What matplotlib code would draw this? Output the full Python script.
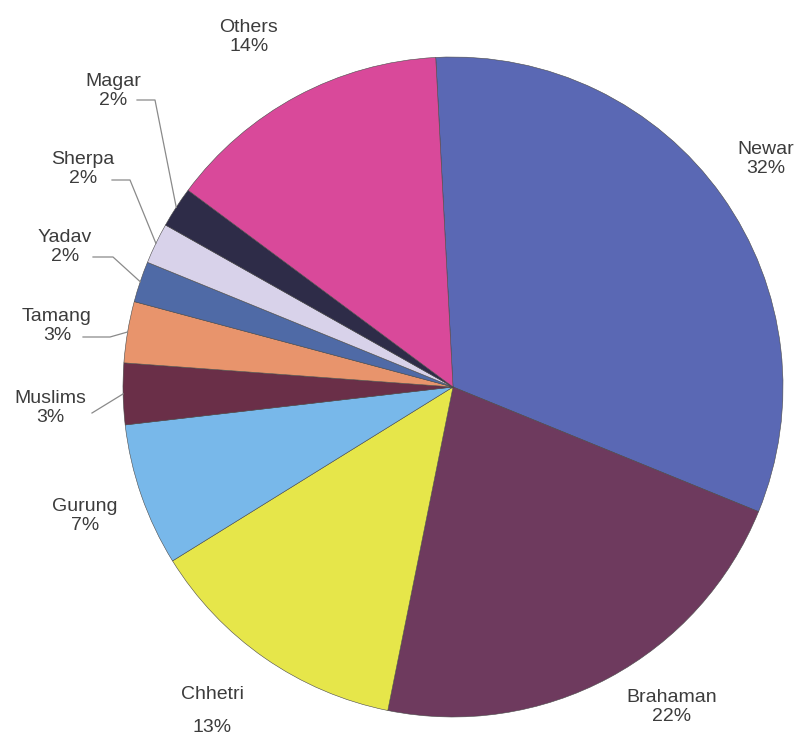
import numpy as np
import matplotlib
matplotlib.use("Agg")
import matplotlib.pyplot as plt

plt.rcParams['font.family'] = ['Liberation Sans', 'DejaVu Sans']

groups = ['Newar', 'Brahaman', 'Chhetri', 'Gurung', 'Muslims',
          'Tamang', 'Yadav', 'Sherpa', 'Magar', 'Others']
shares = [32, 22, 13, 7, 3, 3, 2, 2, 2, 14]
colors = ['#5a68b4', '#6e3a5e', '#e6e64a', '#78b8ea', '#6a2f48',
          '#e8946c', '#4f6aa6', '#d8d2ea', '#2e2c48', '#d9499a']

W, H = 801, 738
cx, cy, R = 453, 387, 330   # pie centre and radius in pixels

fig = plt.figure(figsize=(W / 100, H / 100), dpi=100)
ax = fig.add_axes([(cx - R) / W, (H - cy - R) / H, 2 * R / W, 2 * R / H])

wedges, _ = ax.pie(shares, colors=colors, startangle=93, counterclock=False,
                   radius=1, wedgeprops=dict(edgecolor='#4a4a4a', linewidth=0.4))
ax.set_xlim(-1, 1)
ax.set_ylim(-1, 1)
ax.set_aspect('equal')
ax.axis('off')


def px(x, y):
    # pixel position -> data coords of the pie axes
    return (x - cx) / R, (cy - y) / R


# label layout in pixels: text centre, and for leader lines start/elbow points
label_pos = {
    'Newar': (766, 159), 'Brahaman': (672, 707), 'Chhetri': (212, 711),
    'Gurung': (85, 516), 'Muslims': (50, 408), 'Tamang': (57, 326),
    'Yadav': (65, 247), 'Sherpa': (83, 169), 'Magar': (113, 91),
    'Others': (249, 37),
}
leaders = {
    'Magar': [(137, 100), (155, 100)],
    'Sherpa': [(112, 180), (130, 180)],
    'Yadav': [(93, 257), (113, 257)],
    'Tamang': [(83, 337), (110, 337)],
    'Muslims': [(92, 413)],
}

for w, name, val in zip(wedges, groups, shares):
    tx, ty = px(*label_pos[name])
    ls = 2.2 if name == 'Chhetri' else 1.1
    ax.text(tx, ty, f'{name}\n{val}%', ha='center', va='center',
            fontsize=14, color='#3c3c3c', linespacing=ls, clip_on=False)
    if name in leaders:
        mid = np.deg2rad((w.theta1 + w.theta2) / 2)
        pts = [px(*p) for p in leaders[name]] + [(np.cos(mid), np.sin(mid))]
        xs, ys = zip(*pts)
        ax.plot(xs, ys, color='#8a8a8a', lw=0.9, clip_on=False)

fig.savefig('out.png', dpi=100, facecolor='white')
